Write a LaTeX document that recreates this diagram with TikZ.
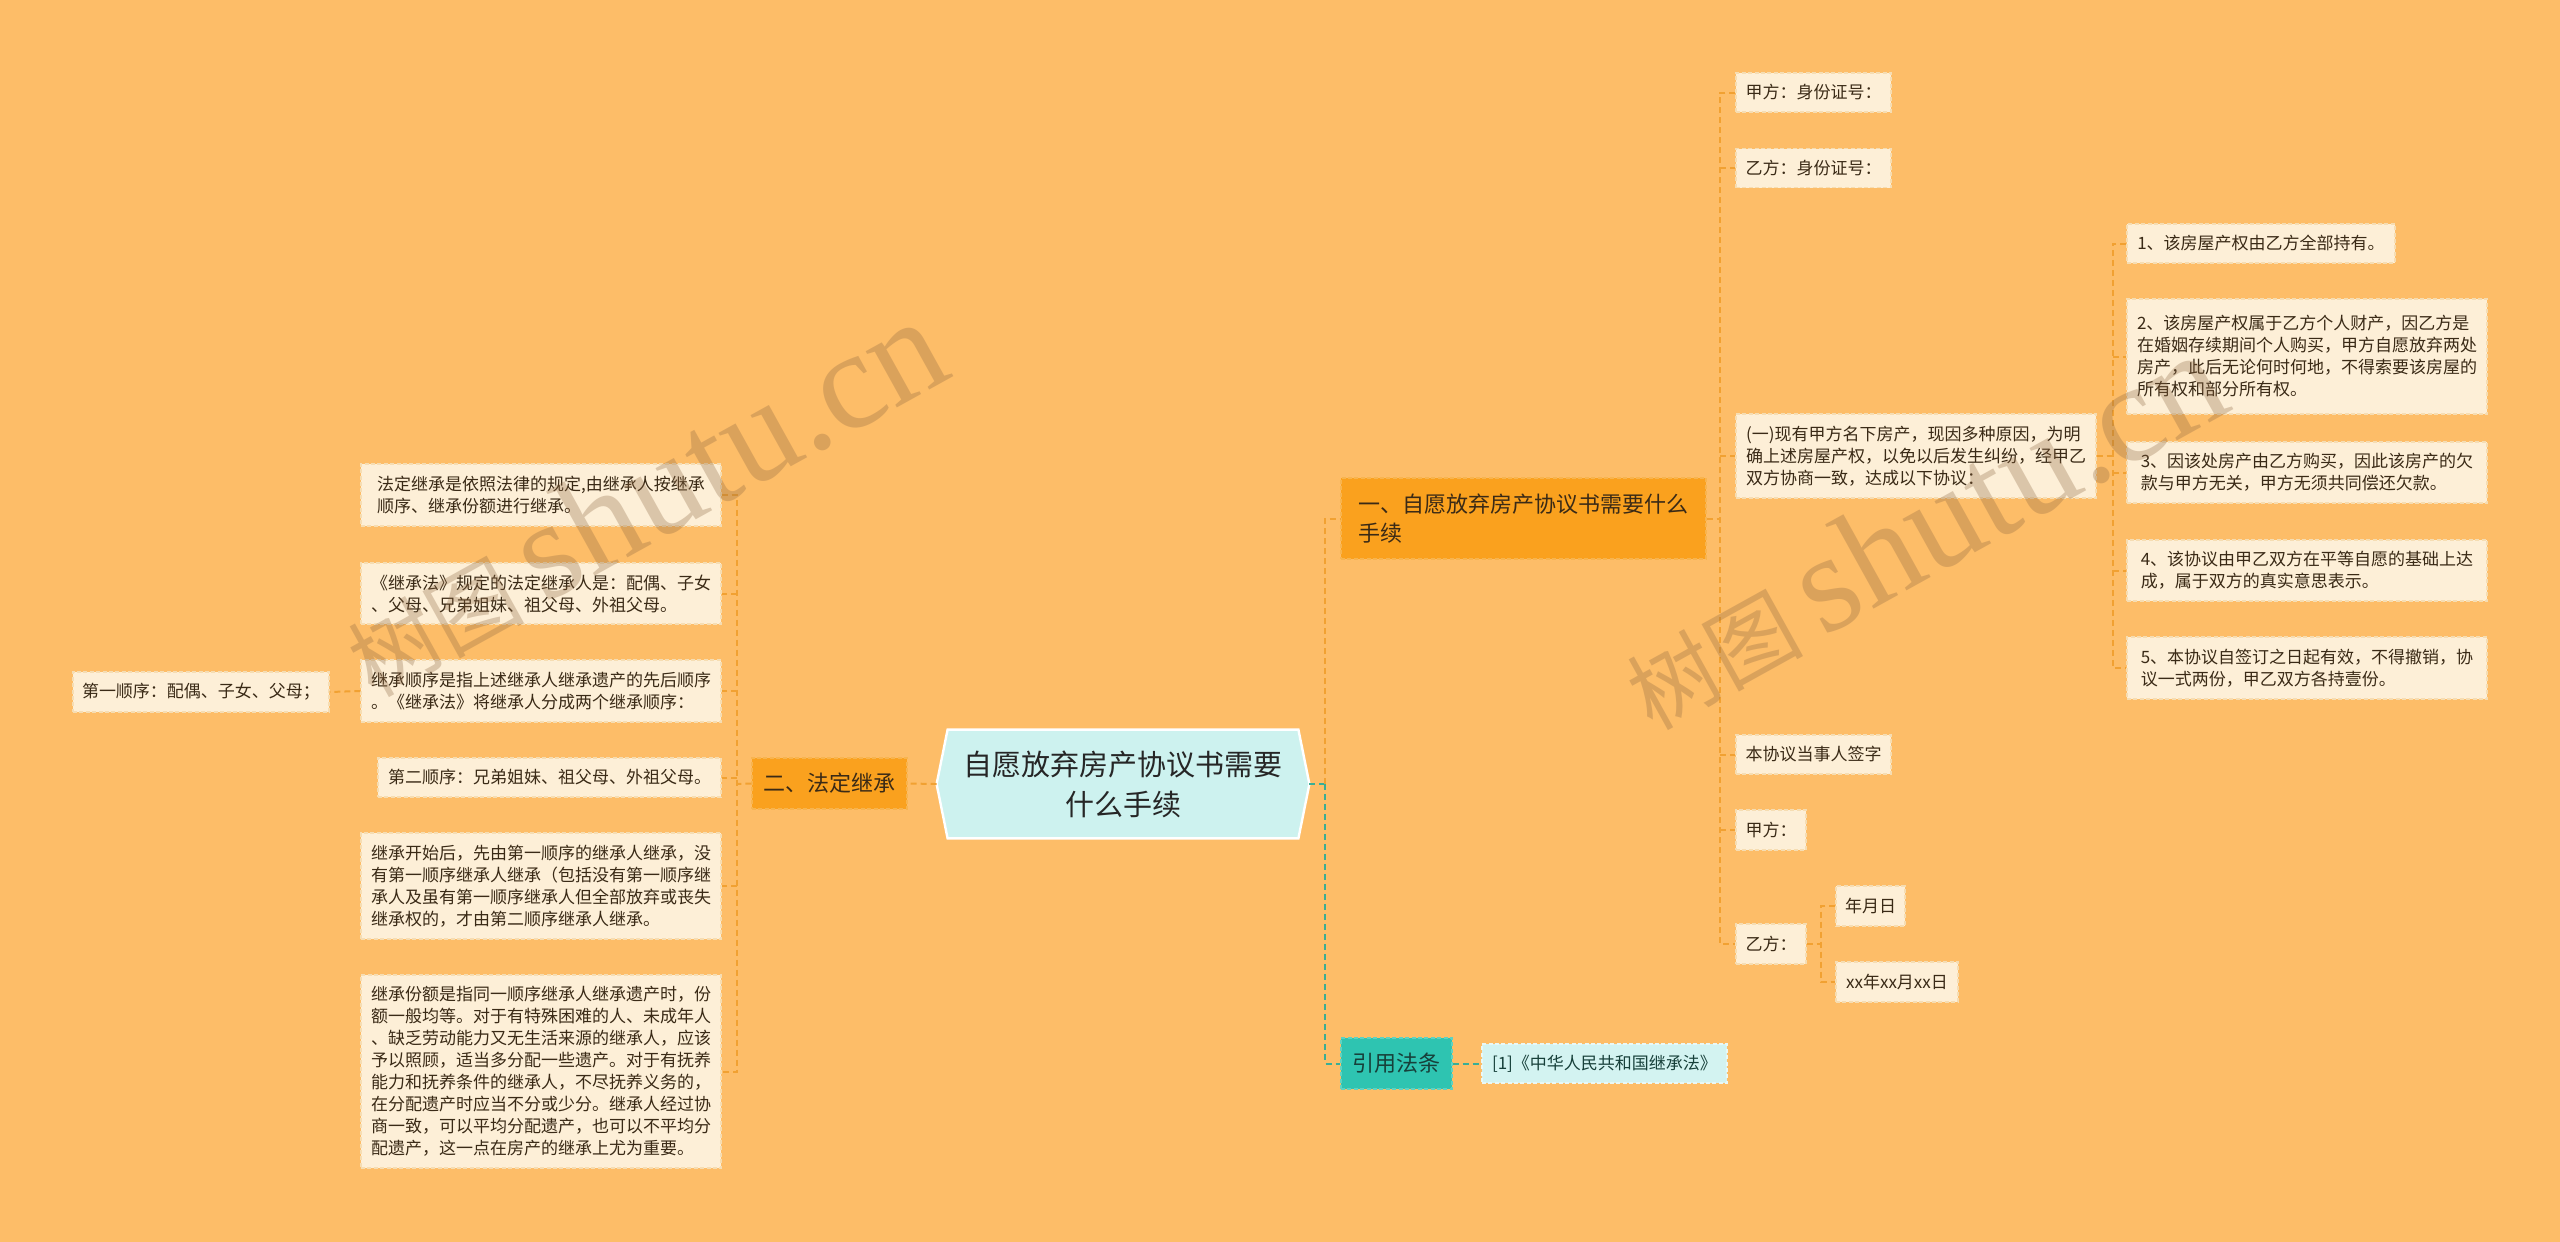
\documentclass[tikz,border=0pt]{standalone}
\usepackage{fontspec}
\setmainfont{Noto Sans CJK SC}
\newfontfamily\wmlatin{Liberation Serif}
\definecolor{bgc}{HTML}{FDBD68}
\definecolor{leafc}{HTML}{FDEFD7}
\definecolor{leafb}{HTML}{F6DDB2}
\definecolor{brc}{HTML}{FAA11E}
\definecolor{brb}{HTML}{F8B44E}
\definecolor{txtc}{HTML}{3A2A16}
\definecolor{connc}{HTML}{F1A132}
\definecolor{tconnc}{HTML}{3AAE95}
\definecolor{tealc}{HTML}{2EC4B1}
\definecolor{tealb}{HTML}{5FD2C1}
\definecolor{tealtxt}{HTML}{17403A}
\definecolor{citec}{HTML}{D3F3F1}
\definecolor{citeb}{HTML}{E9F8F6}
\definecolor{rootc}{HTML}{CDF2EF}
\definecolor{wmc}{HTML}{8A6440}
\pgfdeclarelayer{bgl}
\pgfdeclarelayer{back}
\pgfsetlayers{bgl,back,main}
\tikzset{
  leaf/.style={fill=leafc, draw=leafb, dash pattern=on 2pt off 1.2pt, line width=0.7pt,
    text=txtc, font=\fontsize{8.5pt}{11pt}\selectfont, align=left, inner xsep=4pt, inner ysep=2pt},
  branch/.style={fill=brc, draw=brb, dash pattern=on 2pt off 1.2pt, line width=0.7pt,
    text=txtc, font=\fontsize{11pt}{14.5pt}\selectfont, align=left, inner xsep=4pt, inner ysep=2pt},
  tealbox/.style={branch, fill=tealc, draw=tealb, text=tealtxt},
  citebox/.style={leaf, fill=citec, draw=citeb, text=tealtxt},
  rootbox/.style={font=\fontsize{14.5pt}{20pt}\selectfont, align=center, text=black!85, inner sep=0pt},
  conn/.style={draw=connc, line width=1pt, dash pattern=on 3pt off 2pt},
  tconn/.style={conn, draw=tconnc},
  wm/.style={text=wmc, text opacity=0.3, rotate=29, inner sep=0pt},
}
\begin{document}
\begin{tikzpicture}[x=0.5pt,y=-0.5pt]
\begin{pgfonlayer}{bgl}
\fill[bgc] (0,0) rectangle (2560,1242);
\end{pgfonlayer}
\useasboundingbox (0,0) rectangle (2560,1242);

% root
\node[rootbox, minimum width=186pt, minimum height=54pt] (root) at (1123,784) {自愿放弃房产协议书需要\\什么手续};
\begin{pgfonlayer}{back}
\filldraw[fill=rootc, draw=white, line width=1.2pt] (root.west) -- ([xshift=5.5pt]root.north west) -- ([xshift=-5.5pt]root.north east) -- (root.east) -- ([xshift=-5.5pt]root.south east) -- ([xshift=5.5pt]root.south west) -- cycle;
\end{pgfonlayer}

% branches
\node[branch, minimum width=182.5pt, minimum height=40.5pt] (B1) at (1523.5,518.5) {一、自愿放弃房产协议书需要什么\\手续};
\node[branch, minimum width=77.5pt, minimum height=25.5pt] (B2) at (829.5,783.5) {二、法定继承};
\node[tealbox, minimum width=55.5pt, minimum height=25.5pt] (B3) at (1396.5,1063.5) {引用法条};
\node[citebox, minimum width=122.5pt, minimum height=19.5pt] (C1) at (1604.5,1063.5) {[1]《中华人民共和国继承法》};

% left leaves
\node[leaf, minimum width=180pt, minimum height=31pt] (L1) at (541,495) {法定继承是依照法律的规定,由继承人按继承\\顺序、继承份额进行继承。};
\node[leaf, minimum width=180pt, minimum height=30.5pt] (L2) at (541,593.5) {《继承法》规定的法定继承人是：配偶、子女\\、父母、兄弟姐妹、祖父母、外祖父母。};
\node[leaf, minimum width=180pt, minimum height=31pt] (L3) at (541,691) {继承顺序是指上述继承人继承遗产的先后顺序\\。《继承法》将继承人分成两个继承顺序：};
\node[leaf, minimum width=128pt, minimum height=20pt] (L4) at (201,692) {第一顺序：配偶、子女、父母；};
\node[leaf, minimum width=171.5pt, minimum height=19.5pt] (L5) at (549.5,777.5) {第二顺序：兄弟姐妹、祖父母、外祖父母。};
\node[leaf, minimum width=180pt, minimum height=53pt] (L6) at (541,886) {继承开始后，先由第一顺序的继承人继承，没\\有第一顺序继承人继承（包括没有第一顺序继\\承人及虽有第一顺序继承人但全部放弃或丧失\\继承权的，才由第二顺序继承人继承。};
\node[leaf, minimum width=180pt, minimum height=96.5pt] (L7) at (541,1071.5) {继承份额是指同一顺序继承人继承遗产时，份\\额一般均等。对于有特殊困难的人、未成年人\\、缺乏劳动能力又无生活来源的继承人，应该\\予以照顾，适当多分配一些遗产。对于有抚养\\能力和抚养条件的继承人，不尽抚养义务的，\\在分配遗产时应当不分或少分。继承人经过协\\商一致，可以平均分配遗产，也可以不平均分\\配遗产，这一点在房产的继承上尤为重要。};

% right leaves
\node[leaf, minimum width=77.5pt, minimum height=19.5pt] (R1) at (1813.5,92.5) {甲方：身份证号：};
\node[leaf, minimum width=77.5pt, minimum height=19.5pt] (R2) at (1813.5,168) {乙方：身份证号：};
\node[leaf, minimum width=180pt, minimum height=42pt] (R3) at (1916,456) {(一)现有甲方名下房产，现因多种原因，为明\\确上述房屋产权，以免以后发生纠纷，经甲乙\\双方协商一致，达成以下协议：};
\node[leaf, minimum width=77.5pt, minimum height=19.5pt] (R4) at (1813.5,754.5) {本协议当事人签字};
\node[leaf, minimum width=35pt, minimum height=20pt] (R5) at (1771,830) {甲方：};
\node[leaf, minimum width=35pt, minimum height=20pt] (R6) at (1771,944) {乙方：};
\node[leaf, minimum width=34.5pt, minimum height=20pt] (R7) at (1870.5,906) {年月日};
\node[leaf, minimum width=61pt, minimum height=20pt] (R8) at (1897,982) {xx年xx月xx日};

\node[leaf, minimum width=134pt, minimum height=19.5pt] (N1) at (2261,243.5) {1、该房屋产权由乙方全部持有。};
\node[leaf, minimum width=180pt, minimum height=57.5pt] (N2) at (2307,356.5) {2、该房屋产权属于乙方个人财产，因乙方是\\在婚姻存续期间个人购买，甲方自愿放弃两处\\房产，此后无论何时何地，不得索要该房屋的\\所有权和部分所有权。};
\node[leaf, minimum width=180pt, minimum height=30.5pt] (N3) at (2307,472.5) {3、因该处房产由乙方购买，因此该房产的欠\\款与甲方无关，甲方无须共同偿还欠款。};
\node[leaf, minimum width=180pt, minimum height=30.5pt] (N4) at (2307,570.5) {4、该协议由甲乙双方在平等自愿的基础上达\\成，属于双方的真实意思表示。};
\node[leaf, minimum width=180pt, minimum height=31pt] (N5) at (2307,668) {5、本协议自签订之日起有效，不得撤销，协\\议一式两份，甲乙双方各持壹份。};

% junctions
\coordinate (jl) at (737,784);
\coordinate (jr) at (1325,784);
\coordinate (j1) at (1720,518.5);
\coordinate (j2) at (2113,456);
\coordinate (j3) at (1821,944);

% connectors
\draw[conn] (root.west) -- (B2.east);
\draw[conn] (B2.west) -- (jl);
\draw[conn] (L1.east) -| (jl) |- (L7.east);
\foreach \n in {L2,L3,L5,L6} \draw[conn] (jl |- \n.east) -- (\n.east);
\draw[conn] (L3.west) -- (L4.east);

\draw[tconn] (root.east) -- (jr);
\draw[conn] (jr) |- (B1.west);
\draw[tconn] (jr) |- (B3.west);
\draw[tconn] (B3.east) -- (C1.west);

\draw[conn] (B1.east) -- (j1);
\draw[conn] (R1.west) -| (j1) |- (R6.west);
\foreach \n in {R2,R3,R4,R5} \draw[conn] (j1 |- \n.west) -- (\n.west);

\draw[conn] (R3.east) -- (j2);
\draw[conn] (N1.west) -| (j2) |- (N5.west);
\foreach \n in {N2,N3,N4} \draw[conn] (j2 |- \n.west) -- (\n.west);

\draw[conn] (R6.east) -- (j3);
\draw[conn] (R7.west) -| (j3) |- (R8.west);

% watermarks
\node[wm] (wm1) at (643,498) {\fontsize{44pt}{44pt}\selectfont 树图 {\wmlatin\fontsize{70pt}{70pt}\selectfont shutu.cn}};
\node[wm] (wm2) at (1922,531) {\fontsize{44pt}{44pt}\selectfont 树图 {\wmlatin\fontsize{70pt}{70pt}\selectfont shutu.cn}};
\end{tikzpicture}
\end{document}
